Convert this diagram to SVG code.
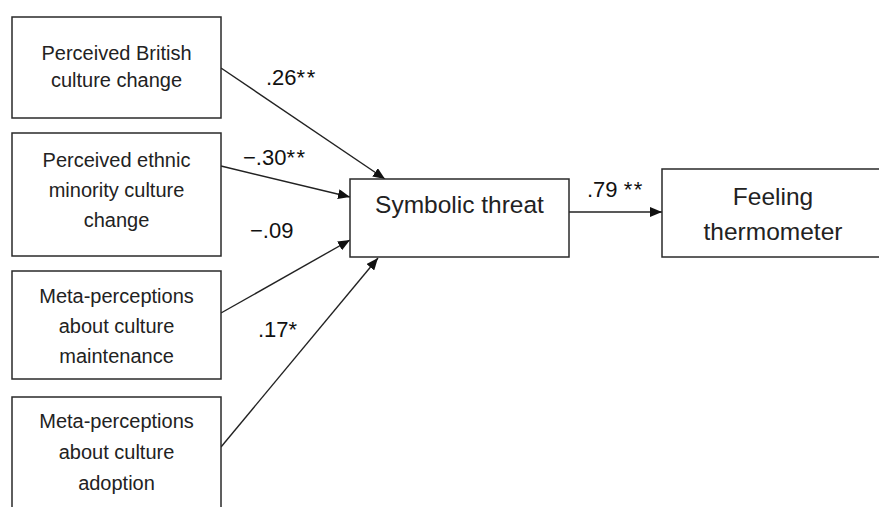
<svg xmlns="http://www.w3.org/2000/svg" width="879" height="507" viewBox="0 0 879 507">
  <defs>
    <marker id="arrow" viewBox="0 0 12 10" refX="12" refY="5" markerWidth="12" markerHeight="10" markerUnits="userSpaceOnUse" orient="auto">
      <path d="M0,0 L12,5 L0,10 Z" fill="#111"/>
    </marker>
    <style>
      .box { fill: #fff; stroke: #2a2a2a; stroke-width: 1.5; }
      .lbl { font-family: "Liberation Sans", Arial, sans-serif; font-size: 20px; fill: #222; text-anchor: middle; }
      .big { font-size: 24.5px; }
      .coef { font-family: "Liberation Sans", Arial, sans-serif; font-size: 22px; fill: #111; }
      .star { letter-spacing: 1.5px; }
      .edge { stroke: #222; stroke-width: 1.4; fill: none; marker-end: url(#arrow); }
    </style>
  </defs>
  <rect width="879" height="507" fill="#fff"/>

  <g id="connectors">
    <line class="edge" x1="221" y1="68" x2="385" y2="179"/>
    <line class="edge" x1="221" y1="166" x2="350" y2="197"/>
    <line class="edge" x1="221" y1="313" x2="350" y2="240"/>
    <line class="edge" x1="221" y1="447" x2="378" y2="258"/>
    <line class="edge" x1="569" y1="212" x2="662" y2="212"/>
    <text class="coef" x="266" y="85">.26<tspan class="star">**</tspan></text>
    <text class="coef" x="243" y="165">−.30<tspan class="star">**</tspan></text>
    <text class="coef" x="250" y="238">−.09</text>
    <text class="coef" x="258" y="337">.17<tspan class="star">*</tspan></text>
    <text class="coef" x="587" y="197">.79 <tspan class="star">**</tspan></text>
  </g>

  <g id="british-change">
    <rect class="box" x="12" y="17" width="209" height="101"/>
    <text class="lbl" x="116.5" y="60">Perceived British</text>
    <text class="lbl" x="116.5" y="87">culture change</text>
  </g>

  <g id="minority-change">
    <rect class="box" x="12" y="133" width="209" height="123"/>
    <text class="lbl" x="116.5" y="167">Perceived ethnic</text>
    <text class="lbl" x="116.5" y="197">minority culture</text>
    <text class="lbl" x="116.5" y="227">change</text>
  </g>

  <g id="meta-maintenance">
    <rect class="box" x="12" y="271" width="209" height="108"/>
    <text class="lbl" x="116.5" y="303">Meta-perceptions</text>
    <text class="lbl" x="116.5" y="333">about culture</text>
    <text class="lbl" x="116.5" y="363">maintenance</text>
  </g>

  <g id="meta-adoption">
    <rect class="box" x="12" y="397" width="209" height="125"/>
    <text class="lbl" x="116.5" y="428">Meta-perceptions</text>
    <text class="lbl" x="116.5" y="459">about culture</text>
    <text class="lbl" x="116.5" y="490">adoption</text>
  </g>

  <g id="symbolic-threat">
    <rect class="box" x="350" y="179" width="219" height="78"/>
    <text class="lbl big" x="459.5" y="213">Symbolic threat</text>
  </g>

  <g id="feeling-thermometer">
    <rect class="box" x="662" y="169" width="222" height="88"/>
    <text class="lbl big" x="773" y="205">Feeling</text>
    <text class="lbl big" x="773" y="240">thermometer</text>
  </g>
</svg>
